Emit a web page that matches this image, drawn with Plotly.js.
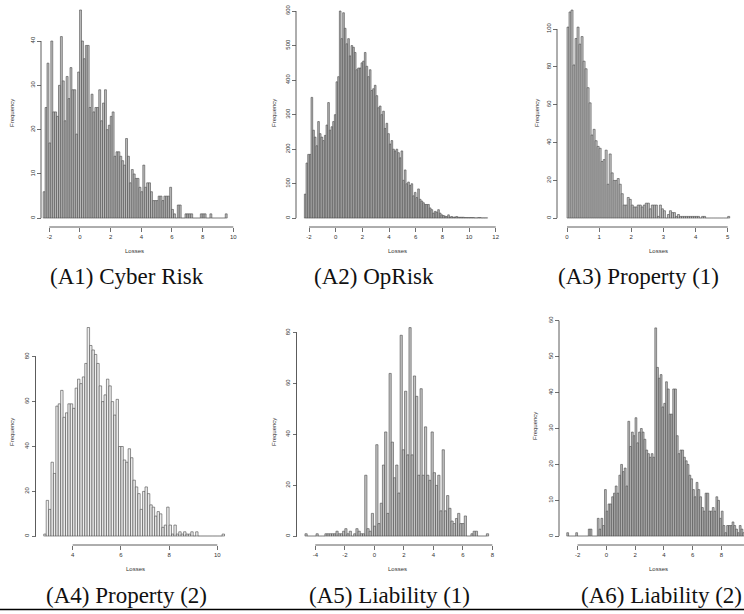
<!DOCTYPE html>
<html><head><meta charset="utf-8">
<script src="https://cdn.plot.ly/plotly-3.0.1.min.js"></script>
<style>html,body{margin:0;padding:0;background:#fff}#chart{width:744px;height:614px}</style>
</head><body><div id="chart"></div>
<script>
// ---------------- DATA (histogram bin edges and counts) ----------------
const captions = ["(A1) Cyber Risk", "(A2) OpRisk", "(A3) Property (1)", "(A4) Property (2)", "(A5) Liability (1)", "(A6) Liability (2)"];
const xLabel = "Losses";
const yLabel = "Frequency";

const a1Start = -2.4, a1Width = 0.125;
const a1Counts = [6,25,35,17,40,24,24,23,30,41,31,22,32,27,34,29,29,19,33,47,
  40,36,39,39,25,28,24,25,25,29,22,26,29,20,21,23,24,14,15,15,
  14,13,12,18,14,8,11,10,9,9,7,6,12,7,8,8,6,4,4,4,
  5,5,4,5,5,5,7,2,1,0,3,3,0,0,1,1,1,1,0,0,
  0,0,1,1,1,0,0,1,0,0,0,0,0,0,0,1];
const a1XTicks = [-2,0,2,4,6,8,10];
const a1YTicks = [0,10,20,30,40];

const a2Start = -2.35, a2Width = 0.125;
const a2Counts = [70,160,185,185,350,255,235,210,280,245,235,225,240,270,335,255,265,280,300,395,
  410,600,520,595,550,505,520,470,500,495,480,430,435,435,450,455,480,440,410,430,
  370,375,385,355,320,325,300,310,260,275,245,215,225,200,195,200,190,175,195,110,
  140,100,105,95,100,65,75,60,85,55,50,45,40,40,40,30,25,15,20,18,
  25,15,10,8,6,5,10,4,5,3,4,5,3,3,3,3,2,2,2,2,
  2,2,1,1,2,2,1,1,1,1];
const a2XTicks = [-2,0,2,4,6,8,10,12];
const a2YTicks = [0,100,200,300,400,500,600];

const a3Start = 0, a3Width = 0.0625;
const a3Counts = [101,109,110,81,95,101,92,96,83,79,69,61,44,47,41,38,37,30,31,36,
  18,34,24,20,20,21,18,13,7,7,11,10,7,6,6,7,7,6,7,8,
  8,5,7,7,7,1,7,5,4,0,2,4,3,3,1,2,1,1,1,1,
  1,1,1,1,1,1,0,1,1,0,0,0,0,0,0,0,0,0,0,0,1];
const a3XTicks = [0,1,2,3,4,5];
const a3YTicks = [0,20,40,60,80,100];

const a4Start = 2.8, a4Width = 0.1;
const a4Counts = [1,16,12,33,28,58,59,65,53,55,59,59,57,66,70,68,71,77,93,
  85,83,81,77,67,60,63,70,67,60,54,61,40,40,34,33,39,35,25,22,19,
  12,20,22,19,14,13,9,11,10,4,5,13,5,1,5,1,2,1,2,1,
  1,2,0,2,0,0,0,0,0,0,0,0,0,0,1];
const a4XTicks = [4,6,8,10];
const a4YTicks = [0,20,40,60,80];

const a5Start = -4.7, a5Width = 0.15;
const a5Counts = [1,0,0,0,0,1,0,0,0,1,1,1,1,1,2,1,1,2,3,1,
  2,0,1,3,2,1,1,24,3,2,9,4,36,5,13,28,41,9,64,37,
  23,28,17,79,34,57,32,82,32,63,55,24,58,24,43,24,22,41,25,20,
  24,10,34,10,16,11,6,5,7,9,5,5,8,0,0,1,2,2,0,0,
  0,0,1];
const a5XTicks = [-4,-2,0,2,4,6,8];
const a5YTicks = [0,20,40,60,80];

const a6Start = -2.75, a6Width = 0.125;
const a6Counts = [1,0,0,0,0,1,0,0,0,0,0,0,2,2,0,0,0,5,2,5,
  3,13,7,9,9,11,12,14,12,17,20,18,19,14,32,25,29,28,33,26,
  29,30,29,27,24,23,22,23,22,58,47,44,45,36,37,43,41,34,34,41,
  41,28,23,24,24,22,21,20,17,16,13,11,15,13,11,8,7,12,12,7,
  7,8,7,11,10,5,7,3,1,3,3,3,4,3,2,1,3,2,1];
const a6XTicks = [-2,0,2,4,6,8,10];
const a6YTicks = [0,10,20,30,40,50,60];

// ---------------- LAYOUT GEOMETRY (pixel calibration of each panel) ----------------
const W = 744, H = 614;
const panels = [
  {counts:a1Counts, start:a1Start, bw:a1Width, xt:a1XTicks, yt:a1YTicks, cap:captions[0],
   xc:[-2,49.3,10,233.3], xp:[36,242], yc:[0,218.3,40,41], yp:[218.3,4], xAx:227, yAx:41,
   fill:'#bebebe', capX:127, capY:276, losX:134, losY:251, frX:12, frY:113},
  {counts:a2Counts, start:a2Start, bw:a2Width, xt:a2XTicks, yt:a2YTicks, cap:captions[1],
   xc:[0,335.7,12,495.7], xp:[290,502], yc:[0,218.3,600,11], yp:[218.3,4], xAx:227, yAx:296,
   fill:'#b8b8b8', capX:374, capY:276, losX:397, losY:251, frX:274, frY:113},
  {counts:a3Counts, start:a3Start, bw:a3Width, xt:a3XTicks, yt:a3YTicks, cap:captions[2],
   xc:[0,567,5,727.7], xp:[550,742], yc:[0,218.3,100,29], yp:[218.3,4], xAx:227, yAx:557,
   fill:'#c4c4c4', capX:638, capY:276, losX:658, losY:251, frX:537, frY:113},
  {counts:a4Counts, start:a4Start, bw:a4Width, xt:a4XTicks, yt:a4YTicks, cap:captions[3],
   xc:[4,72.7,10,217.3], xp:[30,226], yc:[0,536.3,80,356.7], yp:[536.3,318], xAx:545, yAx:35.5,
   fill:'#eeeeee', capX:127, capY:595, losX:135, losY:569, frX:12, frY:432},
  {counts:a5Counts, start:a5Start, bw:a5Width, xt:a5XTicks, yt:a5YTicks, cap:captions[4],
   xc:[0,374.3,8,492.3], xp:[290,502], yc:[0,536.3,80,332.7], yp:[536.3,318], xAx:545, yAx:296.5,
   fill:'#c4c4c4', capX:389, capY:595, losX:397, losY:569, frX:274, frY:432},
  {counts:a6Counts, start:a6Start, bw:a6Width, xt:a6XTicks, yt:a6YTicks, cap:captions[5],
   xc:[0,606.3,8,721.3], xp:[552,744], yc:[0,536.3,60,320.7], yp:[536.3,318], xAx:545, yAx:559,
   fill:'#bcbcbc', capX:661, capY:595, losX:658, losY:569, frX:535, frY:426}
];

function calib(v1, p1, v2, p2, pa, pb) {
  const s = (v2 - v1) / (p2 - p1);
  return [v1 + (pa - p1) * s, v1 + (pb - p1) * s];
}

const lineCol = '#4a4a4a';
const tickFont = {family:'Liberation Sans, Arial, sans-serif', size:6, color:'#333'};
const traces = [], shapes = [], annotations = [];
const layout = {
  width: W, height: H, margin:{l:0,r:0,t:0,b:0},
  paper_bgcolor:'#fff', plot_bgcolor:'rgba(0,0,0,0)', showlegend:false,
  shapes: shapes, annotations: annotations
};

panels.forEach((p, i) => {
  const n = i === 0 ? '' : String(i + 1);
  const xid = 'x' + n, yid = 'y' + n;
  const xr = calib(p.xc[0], p.xc[1], p.xc[2], p.xc[3], p.xp[0], p.xp[1]);
  const yr = calib(p.yc[0], p.yc[1], p.yc[2], p.yc[3], p.yp[0], p.yp[1]);
  const centers = p.counts.map((c, k) => p.start + p.bw * (k + 0.5));
  traces.push({
    type:'bar', x:centers, y:p.counts, width:p.bw, xaxis:xid, yaxis:yid,
    marker:{color:p.fill, line:{color:lineCol, width:0.6}},
    hoverinfo:'skip', showlegend:false
  });
  layout['xaxis' + n] = {
    domain:[p.xp[0] / W, p.xp[1] / W], range:xr, anchor:'free', position:1 - p.xAx / H,
    showline:false, showgrid:false, zeroline:false, ticks:'outside', ticklen:4, tickwidth:0.8,
    tickcolor:lineCol, tickvals:p.xt, ticktext:p.xt.map(String), tickfont:tickFont, fixedrange:true
  };
  layout['yaxis' + n] = {
    domain:[1 - p.yp[0] / H, 1 - p.yp[1] / H], range:yr, anchor:'free', position:p.yAx / W,
    showline:false, showgrid:false, zeroline:false, ticks:'outside', ticklen:4, tickwidth:0.8,
    tickcolor:lineCol, tickvals:p.yt, ticktext:p.yt.map(String), tickfont:tickFont, tickangle:-90,
    fixedrange:true
  };
  // R-style detached axis lines spanning first to last tick
  shapes.push({type:'line', xref:xid, yref:'paper', x0:p.xt[0], x1:Math.min(p.xt[p.xt.length - 1], xr[1]),
    y0:1 - p.xAx / H, y1:1 - p.xAx / H, line:{color:lineCol, width:0.9}});
  shapes.push({type:'line', xref:'paper', yref:yid, x0:p.yAx / W, x1:p.yAx / W,
    y0:p.yt[0], y1:p.yt[p.yt.length - 1], line:{color:lineCol, width:0.9}});
  // histogram baseline (empty bins)
  shapes.push({type:'line', xref:xid, yref:yid, x0:p.start, x1:p.start + p.bw * p.counts.length,
    y0:0, y1:0, line:{color:lineCol, width:0.8}});
  annotations.push({xref:'paper', yref:'paper', x:p.capX / W, y:1 - p.capY / H, text:p.cap, showarrow:false,
    xanchor:'center', yanchor:'middle', font:{family:'Liberation Serif, Times New Roman, serif', size:23, color:'#111'}});
  annotations.push({xref:'paper', yref:'paper', x:p.losX / W, y:1 - p.losY / H, text:xLabel, showarrow:false,
    xanchor:'center', yanchor:'middle', font:{family:'Liberation Sans, Arial, sans-serif', size:6, color:'#333'}});
  annotations.push({xref:'paper', yref:'paper', x:p.frX / W, y:1 - p.frY / H, text:yLabel, showarrow:false,
    textangle:-90, xanchor:'center', yanchor:'middle', font:{family:'Liberation Sans, Arial, sans-serif', size:6, color:'#333'}});
});

// page rule under the bottom captions
shapes.push({type:'line', xref:'paper', yref:'paper', x0:0, x1:1, y0:1 - 609.5 / H, y1:1 - 609.5 / H,
  line:{color:'#000', width:1.5}});

Plotly.newPlot('chart', traces, layout, {staticPlot:true, displayModeBar:false});
</script>
</body></html>
